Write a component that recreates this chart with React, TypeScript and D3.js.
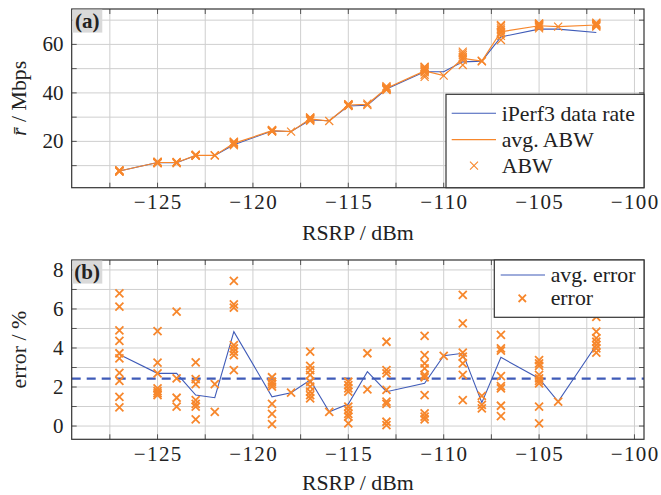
import React from "react";
import * as d3 from "d3";

const rsrp = [-127, -125, -124, -123, -122, -121, -119, -118, -117, -116, -115, -114, -113, -111, -110, -109, -108, -107, -105, -104, -102];
const iperfRate = [7.8, 11.3, 11.2, 14.2, 14.2, 18.6, 24.3, 24.1, 28.8, 28.5, 34.6, 34.9, 41.6, 48.7, 48.7, 52.8, 53.1, 63.1, 66.3, 66.3, 64.9];
const avgAbw = [7.8, 11.3, 11.3, 14.2, 14.2, 19.2, 24.4, 24.0, 29.3, 28.4, 35.0, 35.3, 41.9, 49.1, 47.1, 54.2, 53.1, 65.2, 67.7, 67.3, 68.0];
const abwSamples: number[][] = [
  [7.6, 7.8, 8.0, 7.7, 7.9, 7.5, 8.1],
  [11.0, 11.3, 11.5, 11.2, 11.4, 11.6, 11.1],
  [11.0, 11.3, 11.5, 11.4],
  [14.0, 14.2, 14.5, 14.1, 14.3, 14.4, 14.2],
  [14.2, 14.3],
  [18.4, 19.0, 19.4, 19.7, 19.9, 18.9, 19.2, 19.6],
  [24.0, 24.3, 24.5, 24.6, 24.7, 24.4, 24.2],
  [24.0],
  [28.5, 29.0, 29.3, 29.6, 29.8, 29.9, 29.5, 29.2, 29.0],
  [28.4],
  [34.6, 34.8, 35.0, 35.2, 34.9, 35.3, 35.1, 34.7, 35.0],
  [35.0, 35.6],
  [41.2, 41.6, 42.0, 42.4, 42.8, 41.8, 42.2, 41.5],
  [46.6, 47.5, 48.5, 49.2, 49.8, 50.2, 50.6, 50.8, 49.5, 48.9],
  [47.1],
  [51.5, 53.5, 54.2, 54.8, 55.6, 56.3, 57.0],
  [53.0, 53.1, 53.3],
  [61.8, 63.5, 64.5, 65.2, 66.0, 66.6, 67.5, 68.0],
  [66.6, 67.2, 67.6, 68.0, 68.3, 68.7, 67.4, 67.9, 68.5],
  [67.3],
  [67.3, 67.6, 68.0, 68.3, 68.7, 69.0, 68.2],
];
const avgError = [3.67, 2.7, 2.7, 1.59, 1.45, 4.84, 1.5, 1.71, 2.36, 0.73, 1.13, 2.79, 1.76, 2.19, 3.6, 3.73, 1.2, 3.52, 2.44, 1.25, 4.15];
const errorSamples: number[][] = [
  [6.8, 6.12, 4.9, 4.36, 3.73, 3.47, 2.73, 2.31, 1.5, 0.96],
  [4.87, 3.25, 2.7, 1.93, 1.79, 1.68, 1.59],
  [5.86, 2.44, 1.45, 0.99],
  [3.26, 2.41, 2.15, 1.33, 1.13, 0.99, 0.34],
  [2.15, 0.72],
  [7.44, 6.24, 6.07, 4.15, 3.98, 3.81, 3.64, 2.87],
  [2.5, 2.27, 2.15, 2.02, 1.13, 0.62, 0.1],
  [1.71],
  [3.81, 3.08, 2.87, 2.62, 2.27, 2.02, 1.76, 1.59, 1.42],
  [0.73],
  [2.27, 2.1, 1.93, 1.76, 0.99, 0.82, 0.62, 0.48, 0.14],
  [3.73, 1.88],
  [4.32, 2.87, 2.7, 1.85, 1.25, 1.13, 0.22, 0.05],
  [4.62, 3.64, 3.21, 2.96, 2.62, 2.5, 1.59, 0.65, 0.48, 0.34],
  [3.6],
  [6.72, 5.26, 3.76, 3.56, 3.21, 2.62, 1.33],
  [1.54, 1.08, 0.91],
  [4.67, 3.98, 3.86, 2.56, 2.05, 1.93, 1.04, 0.51],
  [3.38, 3.21, 3.08, 2.62, 2.44, 2.32, 2.19, 0.99, 0.14],
  [1.25],
  [5.6, 4.84, 4.5, 4.32, 4.15, 3.98, 3.76],
];
const meanError = 2.43;

const xTicks = [-125, -120, -115, -110, -105, -100];
const xGrid = [-127.5, -125, -122.5, -120, -117.5, -115, -112.5, -110, -107.5, -105, -102.5, -100];
const yTicksA = [20, 40, 60];
const yGridA = [10, 20, 30, 40, 50, 60, 70];
const yTicksB = [0, 2, 4, 6, 8];
const yGridB = [0, 1, 2, 3, 4, 5, 6, 7, 8];

const BLUE = "#3f5bb8";
const ORANGE = "#f7872c";
const FONT = "Liberation Serif";
const FS = 21;
const LFS = 21.8;

const L = 71.7, R = 644;

function cross(x: number, y: number, s: number, sw: number, key: string) {
  return (
    <path key={key} d={`M${x - s},${y - s}L${x + s},${y + s}M${x - s},${y + s}L${x + s},${y - s}`}
      stroke={ORANGE} strokeWidth={sw} fill="none" />
  );
}

function T(props: any) {
  const { size = FS, children, style, ...rest } = props;
  return (
    <text fontFamily={FONT} fontSize={size} fill="#222" style={{ fontFamily: FONT, ...style }} {...rest}>
      {children}
    </text>
  );
}

function Frame({ x, y, top, bottom, grid, ticks, title, titleDy }: any) {
  return (
    <g>
      {xGrid.map((v) => (
        <line key={"gx" + v} x1={x(v)} x2={x(v)} y1={top} y2={bottom} stroke="#cfcfcf" strokeWidth={1} />
      ))}
      {grid.map((v: number) => (
        <line key={"gy" + v} x1={L} x2={R} y1={y(v)} y2={y(v)} stroke="#cfcfcf" strokeWidth={1} />
      ))}
      {xGrid.map((v) => (
        <g key={"tx" + v}>
          <line x1={x(v)} x2={x(v)} y1={bottom} y2={bottom - 5} stroke="#555" />
          <line x1={x(v)} x2={x(v)} y1={top} y2={top + 5} stroke="#555" />
        </g>
      ))}
      {grid.map((v: number) => (
        <g key={"ty" + v}>
          <line x1={L} x2={L + 5} y1={y(v)} y2={y(v)} stroke="#555" />
          <line x1={R} x2={R - 5} y1={y(v)} y2={y(v)} stroke="#555" />
        </g>
      ))}
      {xTicks.map((v) => (
        <T key={"lx" + v} x={x(v) + 0.7} y={bottom + 21.5} textAnchor="middle" letterSpacing={1.4}>
          {"\u2212" + Math.abs(v)}
        </T>
      ))}
      {ticks.map((v: number) => (
        <T key={"ly" + v} x={63.5} y={y(v) + 7} textAnchor="end">
          {String(v)}
        </T>
      ))}
      <T x={(L + R) / 2} y={bottom + titleDy} textAnchor="middle" size={LFS}>
        RSRP / dBm
      </T>
      <T transform={`translate(26,${(top + bottom) / 2}) rotate(-90)`} textAnchor="middle" size={LFS}>
        {title}
      </T>
    </g>
  );
}

function Border({ top, bottom }: { top: number; bottom: number }) {
  return <rect x={L} y={top} width={R - L} height={bottom - top} fill="none" stroke="#333" strokeWidth={1.2} />;
}

function PanelLabel({ top, text }: { top: number; text: string }) {
  return (
    <g>
      <rect x={L + 0.6} y={top + 0.6} width={30} height={23} fill="#d9d9d9" />
      <T x={L + 15.5} y={top + 18.5} textAnchor="middle" fontWeight="bold">
        {text}
      </T>
    </g>
  );
}

export default function App() {
  const x = d3.scaleLinear().domain([-129.5, -99.5]).range([L, R]);
  const topA = 9, botA = 187.7;
  const topB = 260, botB = 439.3;
  const yA = d3.scaleLinear().domain([0.9, 74.6]).range([botA, topA]);
  const yB = d3.scaleLinear().domain([-0.68, 8.51]).range([botB, topB]);

  const lineA = d3.line<number>().x((_, i) => x(rsrp[i])).y((d) => yA(d));
  const lineB = d3.line<number>().x((_, i) => x(rsrp[i])).y((d) => yB(d));

  return (
    <svg width={661} height={495} fontFamily={FONT}
      style={{ position: "absolute", left: 0, top: 0, background: "#fff", fontFamily: FONT }}>
      <style>{`text { font-family: "Liberation Serif", serif; }`}</style>
      <Frame x={x} y={yA} top={topA} bottom={botA} grid={yGridA} ticks={yTicksA} titleDy={52.3}
        title={<><tspan fontStyle="italic">r̄</tspan> / Mbps</>} />
      <path d={lineA(iperfRate) || ""} fill="none" stroke={BLUE} strokeWidth={1.1} />
      <path d={lineA(avgAbw) || ""} fill="none" stroke={ORANGE} strokeWidth={1.2} />
      {abwSamples.map((arr, i) => arr.map((v, j) => cross(x(rsrp[i]), yA(v), 4, 1.2, `a${i}-${j}`)))}
      <Border top={topA} bottom={botA} />
      <PanelLabel top={topA} text="(a)" />
      <g>
        <rect x={446} y={94.3} width={R - 446} height={botA - 94.3} fill="#fff" stroke="#333" strokeWidth={1.2} />
        <line x1={451.7} x2={496} y1={113.3} y2={113.3} stroke={BLUE} strokeWidth={1.1} />
        <T x={501.7} y={120.5} size={LFS}>iPerf3 data rate</T>
        <line x1={451.7} x2={496} y1={139.7} y2={139.7} stroke={ORANGE} strokeWidth={1.2} />
        <T x={501.7} y={146.9} size={LFS}>avg. ABW</T>
        {cross(474, 165.7, 4, 1.1, "legA")}
        <T x={501.7} y={172.9} size={LFS}>ABW</T>
      </g>

      <Frame x={x} y={yB} top={topB} bottom={botB} grid={yGridB} ticks={yTicksB} titleDy={50.7} title="error / %" />
      <line x1={L} x2={R} y1={yB(meanError)} y2={yB(meanError)} stroke={BLUE} strokeWidth={2.4} strokeDasharray="9,6" />
      <path d={lineB(avgError) || ""} fill="none" stroke={BLUE} strokeWidth={1.1} />
      {errorSamples.map((arr, i) => arr.map((v, j) => cross(x(rsrp[i]), yB(v), 4, 1.8, `e${i}-${j}`)))}
      <Border top={topB} bottom={botB} />
      <PanelLabel top={topB} text="(b)" />
      <g>
        <rect x={494.3} y={topB} width={R - 494.3} height={317.3 - topB} fill="#fff" stroke="#333" strokeWidth={1.2} />
        <line x1={500.7} x2={545} y1={275} y2={275} stroke={BLUE} strokeWidth={1.1} />
        <T x={550.7} y={282} size={LFS}>avg. error</T>
        {cross(522.3, 298.3, 3.7, 1.8, "legB")}
        <T x={550.7} y={305.3} size={LFS}>error</T>
      </g>
    </svg>
  );
}
